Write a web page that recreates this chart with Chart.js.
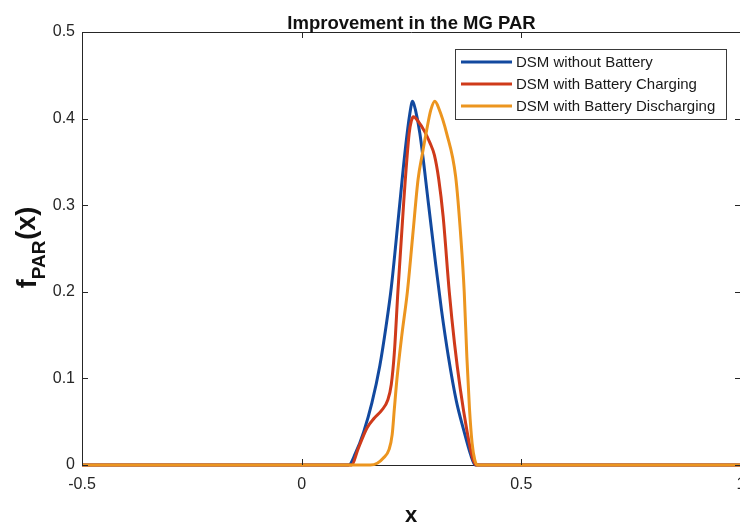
<!DOCTYPE html>
<html>
<head>
<meta charset="utf-8">
<script src="https://cdn.jsdelivr.net/npm/chart.js@4.4.1/dist/chart.umd.min.js"></script>
<style>
html,body{margin:0;padding:0;overflow:hidden;background:#fff;width:740px;height:525px;}
#wrap{position:absolute;left:0;top:0;width:770px;height:525px;}
</style>
</head>
<body>
<div id="wrap"><canvas id="c"></canvas></div>
<script>
const chartTitle = 'Improvement in the MG PAR';
const seriesNames = ['DSM without Battery', 'DSM with Battery Charging', 'DSM with Battery Discharging'];
const xTicks = [-0.5, 0, 0.5, 1];
const yTicks = [0, 0.1, 0.2, 0.3, 0.4, 0.5];

const blueX = [-0.5, 0.107, 0.122, 0.141, 0.160, 0.178, 0.192, 0.204, 0.221, 0.236, 0.246, 0.2524, 0.259, 0.269, 0.289, 0.305, 0.318, 0.334, 0.352, 0.369, 0.384, 0.395, 1];
const blueY = [0, 0, 0.013, 0.038, 0.072, 0.115, 0.16, 0.205, 0.29, 0.365, 0.405, 0.42, 0.41, 0.383, 0.30, 0.232, 0.18, 0.125, 0.074, 0.04, 0.013, 0, 0];

const redX = [-0.5, 0.114, 0.128, 0.149, 0.165, 0.182, 0.196, 0.204, 0.211, 0.219, 0.2326, 0.2447, 0.2495, 0.2545, 0.265, 0.280, 0.292, 0.302, 0.312, 0.322, 0.336, 0.348, 0.361, 0.376, 0.388, 0.397, 1];
const redY = [0, 0, 0.018, 0.043, 0.054, 0.063, 0.075, 0.093, 0.13, 0.20, 0.306, 0.383, 0.397, 0.402, 0.397, 0.385, 0.372, 0.358, 0.33, 0.287, 0.20, 0.14, 0.088, 0.04, 0.01, 0, 0];

const orangeX = [-0.5, 0.156, 0.172, 0.186, 0.199, 0.206, 0.211, 0.217, 0.228, 0.2406, 0.2528, 0.265, 0.275, 0.285, 0.294, 0.3032, 0.312, 0.330, 0.3505, 0.3627, 0.370, 0.376, 0.382, 0.388, 0.394, 0.400, 1];
const orangeY = [0, 0, 0.002, 0.008, 0.018, 0.035, 0.065, 0.10, 0.15, 0.20, 0.265, 0.33, 0.36, 0.388, 0.41, 0.42, 0.412, 0.383, 0.333, 0.26, 0.20, 0.125, 0.065, 0.025, 0.006, 0, 0];

const colors = ['#12499F', '#CF3A1A', '#EC951F'];
const FONT = '"Liberation Sans", Arial, Helvetica, sans-serif';
const AX = '#262626';

function pts(xs, ys){ return xs.map((x,i)=>({x:x, y:ys[i]})); }

const decor = {
  id: 'decor',
  afterDraw(chart){
    const ctx = chart.ctx, a = chart.chartArea;
    const xs = chart.scales.x, ys = chart.scales.y;
    ctx.save();
    ctx.strokeStyle = AX; ctx.lineWidth = 1;
    ctx.beginPath();
    ctx.moveTo(a.left, a.top + 0.5); ctx.lineTo(a.right, a.top + 0.5);
    ctx.moveTo(a.right + 0.5, a.top); ctx.lineTo(a.right + 0.5, a.bottom);
    ctx.stroke();
    const L = 6;
    ctx.beginPath();
    xTicks.forEach(v=>{
      const p = Math.round(xs.getPixelForValue(v)) + 0.5;
      ctx.moveTo(p, a.bottom); ctx.lineTo(p, a.bottom - L);
      ctx.moveTo(p, a.top); ctx.lineTo(p, a.top + L);
    });
    yTicks.forEach(v=>{
      const p = Math.round(ys.getPixelForValue(v)) + 0.5;
      ctx.moveTo(a.left, p); ctx.lineTo(a.left + L, p);
      ctx.moveTo(a.right, p); ctx.lineTo(a.right - L, p);
    });
    ctx.stroke();

    // title
    ctx.fillStyle = '#111';
    ctx.font = 'bold 18.5px ' + FONT;
    ctx.textAlign = 'center'; ctx.textBaseline = 'alphabetic';
    ctx.fillText(chartTitle, 411.5, 29);

    // x axis title
    ctx.font = 'bold 22px ' + FONT;
    ctx.fillText('x', 411, 522);

    // y axis title f_PAR(x)
    ctx.save();
    ctx.translate(36, 248);
    ctx.rotate(-Math.PI/2);
    ctx.textAlign = 'left';
    const f1 = 'bold 27px ' + FONT, f2 = 'bold 19px ' + FONT;
    ctx.font = f1; const w1 = ctx.measureText('f').width;
    ctx.font = f2; const w2 = ctx.measureText('PAR').width;
    ctx.font = f1; const w3 = ctx.measureText('(x)').width;
    let x0 = -(w1 + w2 + w3)/2;
    ctx.font = f1; ctx.fillText('f', x0, 0);
    ctx.font = f2; ctx.fillText('PAR', x0 + w1, 9);
    ctx.font = f1; ctx.fillText('(x)', x0 + w1 + w2 + 1, -1);
    ctx.restore();

    // legend
    const lx = 455, ly = 49, lw = 271, lh = 70;
    ctx.fillStyle = '#fff';
    ctx.fillRect(lx, ly, lw, lh);
    ctx.strokeStyle = '#3a3a3a'; ctx.lineWidth = 1;
    ctx.strokeRect(lx + 0.5, ly + 0.5, lw, lh);
    ctx.font = '15px ' + FONT;
    ctx.textAlign = 'left'; ctx.textBaseline = 'middle';
    seriesNames.forEach((n,i)=>{
      const yy = 62 + i*22;
      ctx.strokeStyle = colors[i]; ctx.lineWidth = 3;
      ctx.beginPath(); ctx.moveTo(461, yy); ctx.lineTo(512, yy); ctx.stroke();
      ctx.fillStyle = '#1a1a1a';
      ctx.fillText(n, 516, yy + 1);
    });
    ctx.restore();
  }
};

new Chart(document.getElementById('c'), {
  type: 'scatter',
  data: {
    datasets: [
      {label: seriesNames[0], data: pts(blueX, blueY), borderColor: colors[0], order: 3},
      {label: seriesNames[1], data: pts(redX, redY), borderColor: colors[1], order: 2},
      {label: seriesNames[2], data: pts(orangeX, orangeY), borderColor: colors[2], order: 1}
    ].map(d=>Object.assign(d, {showLine: true, pointRadius: 0, borderWidth: 3, cubicInterpolationMode: 'monotone', fill: false, clip: false}))
  },
  options: {
    responsive: true,
    maintainAspectRatio: false,
    animation: false,
    devicePixelRatio: 1,
    layout: {padding: {left: 0, top: 32, right: 29, bottom: 0}},
    plugins: {legend: {display: false}, tooltip: {enabled: false}, title: {display: false}},
    scales: {
      x: {
        type: 'linear', min: -0.5, max: 1,
        afterBuildTicks: s => { s.ticks = xTicks.map(v=>({value:v})); },
        afterFit: s => { s.height = 60; },
        grid: {display: false, drawTicks: false},
        border: {display: true, color: AX, width: 1},
        ticks: {color: AX, font: {family: FONT, size: 16}, padding: 10, maxRotation: 0,
                callback: v => String(v)}
      },
      y: {
        type: 'linear', min: 0, max: 0.5,
        afterBuildTicks: s => { s.ticks = yTicks.map(v=>({value:v})); },
        afterFit: s => { s.width = 82; },
        grid: {display: false, drawTicks: false},
        border: {display: true, color: AX, width: 1},
        ticks: {color: AX, font: {family: FONT, size: 16}, padding: 7,
                callback: v => String(v)}
      }
    }
  },
  plugins: [decor]
});
</script>
</body>
</html>
